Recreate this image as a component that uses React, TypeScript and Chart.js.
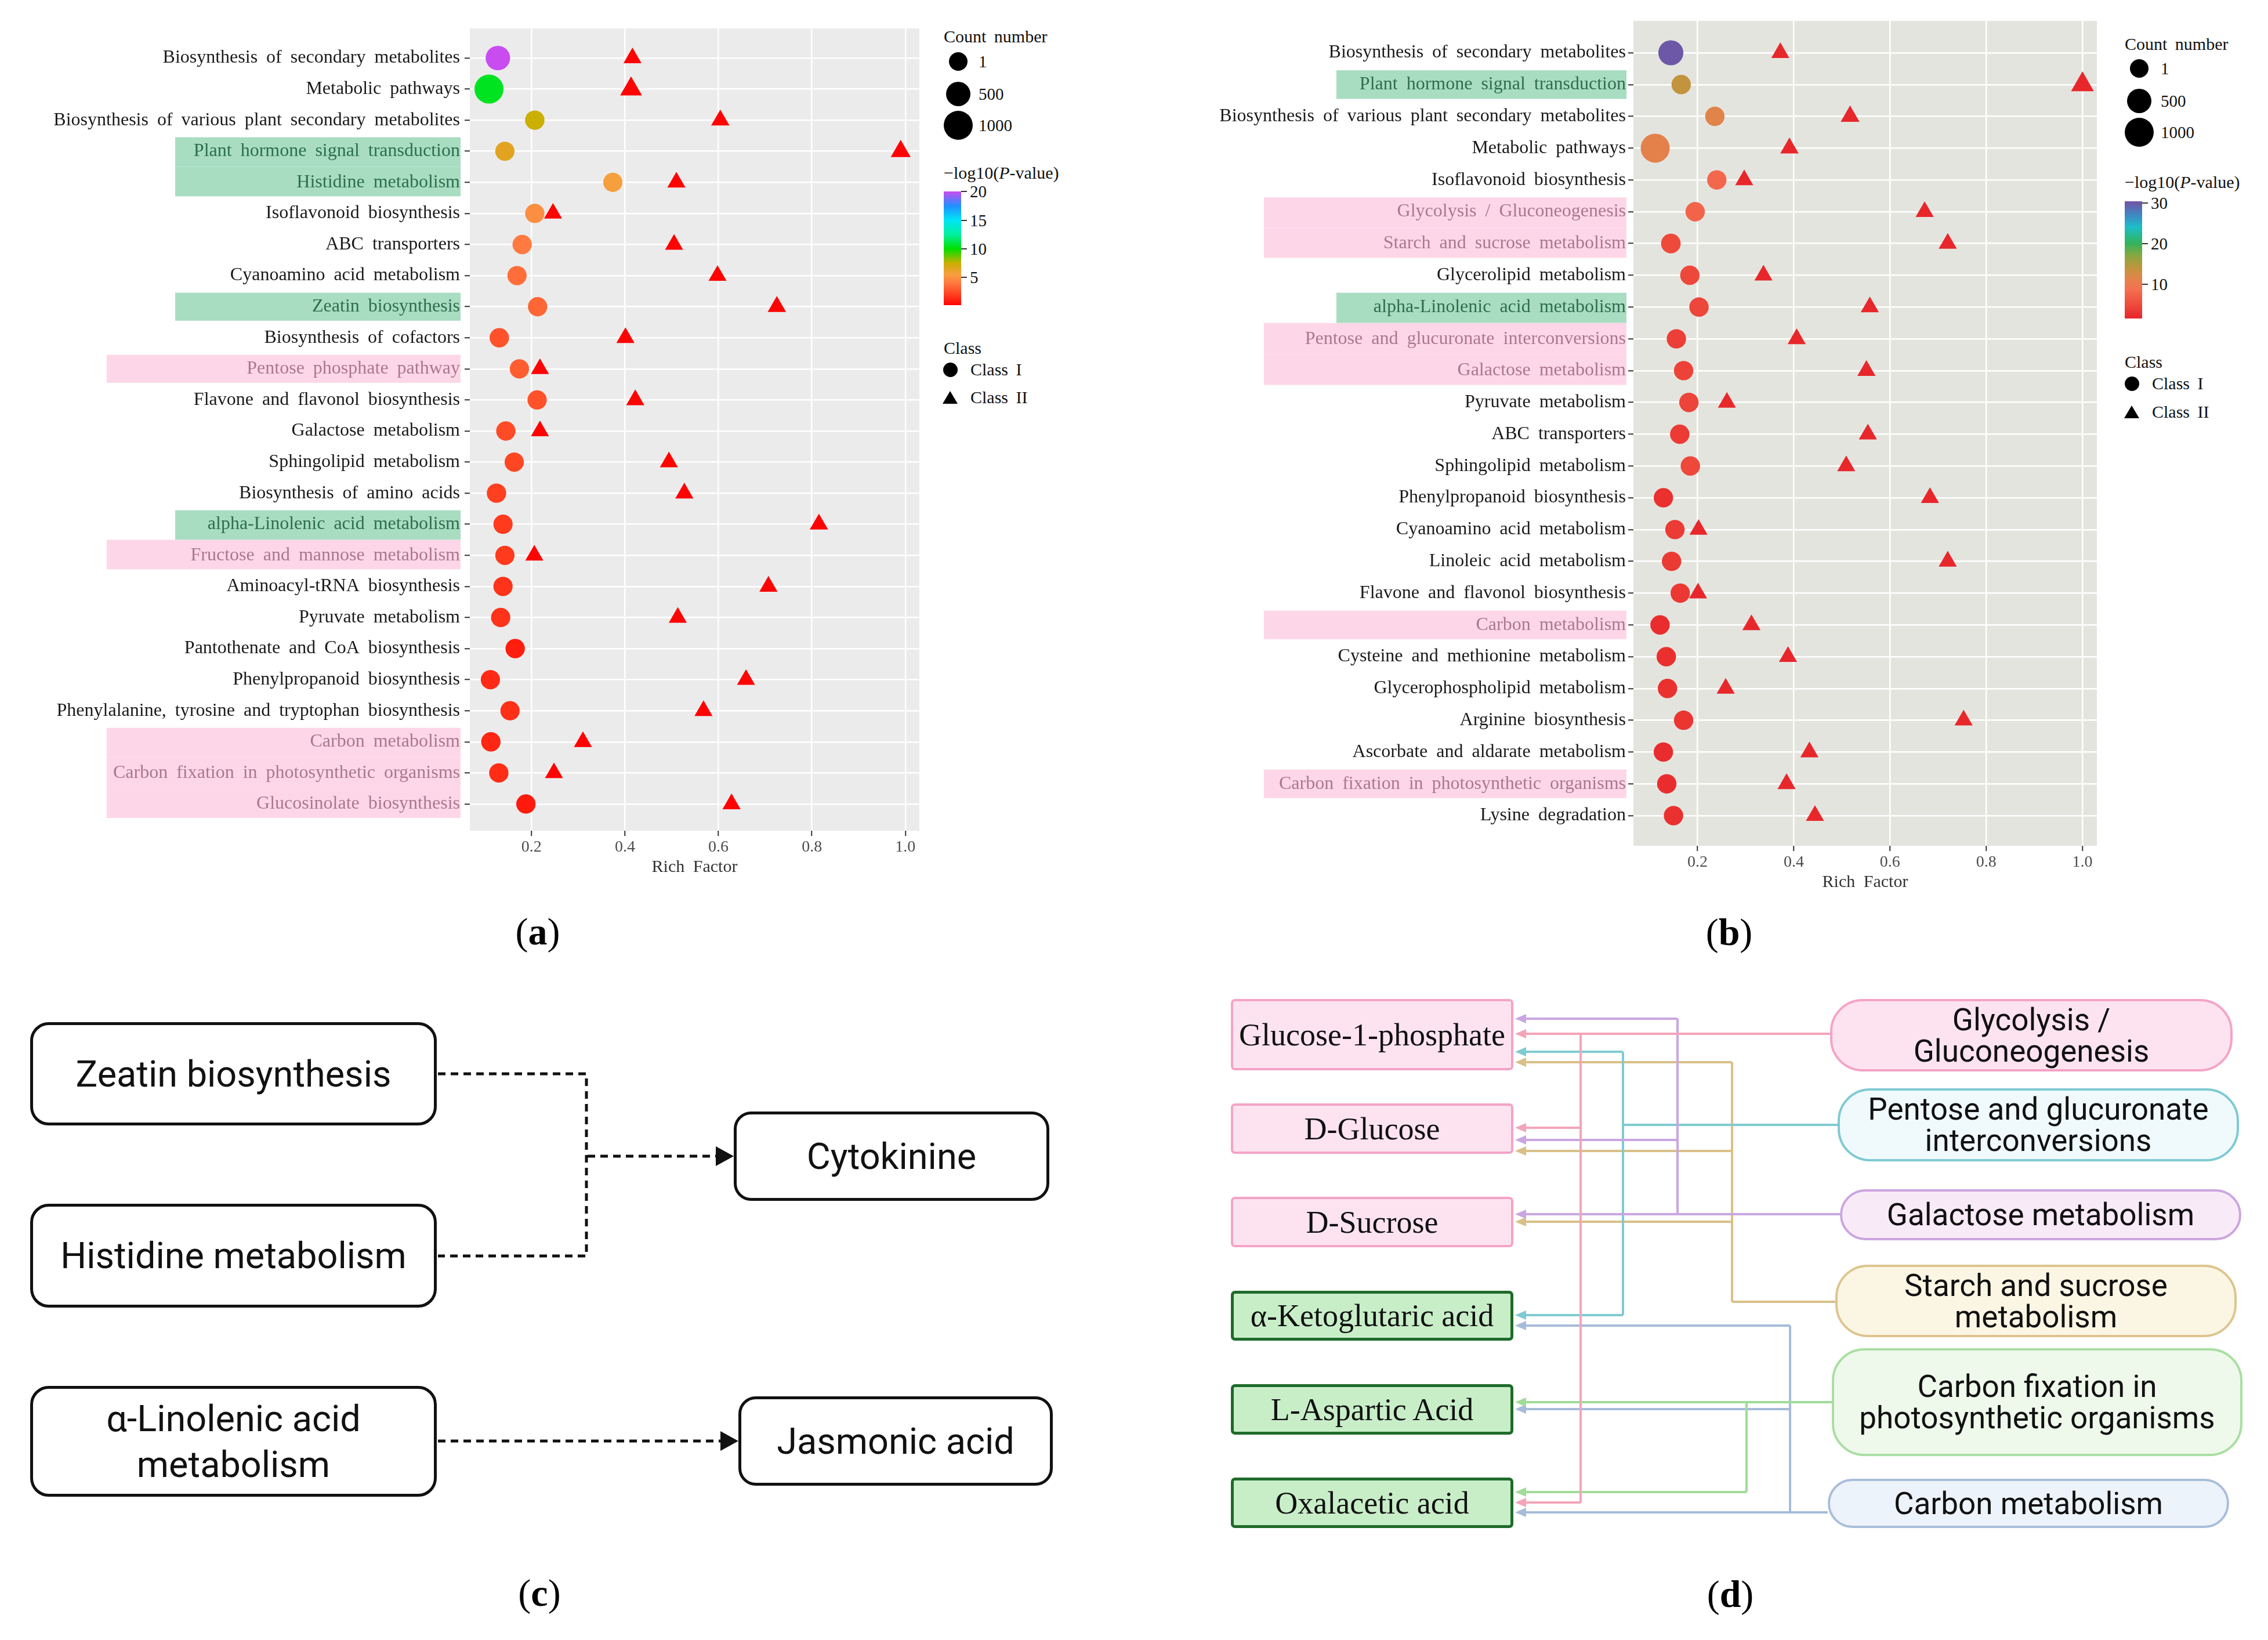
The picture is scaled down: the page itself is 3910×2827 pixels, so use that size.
import React, { useEffect, useRef } from 'react';
import { Chart, registerables } from 'chart.js';
Chart.register(...registerables);

const SERIF = "'Liberation Serif', 'Times New Roman', serif";
const SANS = "Roboto, 'Liberation Sans', Arial, sans-serif";

// ---------------- Panel (a) data ----------------
const catsA = [
  'Biosynthesis of secondary metabolites',
  'Metabolic pathways',
  'Biosynthesis of various plant secondary metabolites',
  'Plant hormone signal transduction',
  'Histidine metabolism',
  'Isoflavonoid biosynthesis',
  'ABC transporters',
  'Cyanoamino acid metabolism',
  'Zeatin biosynthesis',
  'Biosynthesis of cofactors',
  'Pentose phosphate pathway',
  'Flavone and flavonol biosynthesis',
  'Galactose metabolism',
  'Sphingolipid metabolism',
  'Biosynthesis of amino acids',
  'alpha-Linolenic acid metabolism',
  'Fructose and mannose metabolism',
  'Aminoacyl-tRNA biosynthesis',
  'Pyruvate metabolism',
  'Pantothenate and CoA biosynthesis',
  'Phenylpropanoid biosynthesis',
  'Phenylalanine, tyrosine and tryptophan biosynthesis',
  'Carbon metabolism',
  'Carbon fixation in photosynthetic organisms',
  'Glucosinolate biosynthesis',
];
const highlightA = ['', '', '', 'g', 'g', '', '', '', 'g', '', 'p', '', '', '', '', 'g', 'p', '', '', '', '', '', 'p', 'p', 'p'];
const richClassIA = [0.128, 0.109, 0.207, 0.143, 0.374, 0.207, 0.180, 0.169, 0.213, 0.131, 0.174, 0.212, 0.145, 0.163, 0.125, 0.139, 0.143, 0.139, 0.134, 0.165, 0.112, 0.154, 0.113, 0.130, 0.188];
const countClassIA = [500, 1000, 40, 30, 25, 30, 35, 30, 30, 40, 30, 30, 35, 30, 40, 30, 30, 30, 30, 40, 30, 30, 40, 35, 35];
const pClassIA = [20.0, 10.5, 7.4, 6.5, 5.6, 4.8, 4.0, 3.6, 3.3, 2.6, 3.0, 2.6, 2.4, 2.2, 2.0, 1.8, 1.8, 1.6, 1.6, 0.9, 1.3, 1.5, 1.2, 1.4, 0.8];
const richClassIIA = [0.416, 0.413, 0.604, 0.990, 0.510, 0.246, 0.505, 0.598, 0.725, 0.401, 0.218, 0.422, 0.218, 0.494, 0.527, 0.815, 0.206, 0.707, 0.513, null, 0.659, 0.568, 0.310, 0.248, 0.628];
const countClassIIA = [30, 390, 60, 195, 40, 30, 30, 30, 60, 40, 30, 40, 30, 30, 40, 60, 30, 40, 30, null, 30, 30, 30, 30, 40];
const pClassIIA = [0.1, 0.1, 0.1, 0.1, 0.1, 0.1, 0.1, 0.1, 0.1, 0.1, 0.1, 0.1, 0.1, 0.1, 0.1, 0.1, 0.1, 0.1, 0.1, null, 0.1, 0.1, 0.1, 0.1, 0.1];
const xTicksA = [0.2, 0.4, 0.6, 0.8, 1.0];
const colorStopValsA = [0, 2, 4, 5.5, 6.5, 7.5, 10, 12.5, 15, 17.5, 20];
const colorStopColsA = ['#FF0000', '#FF4020', '#FF7A40', '#F7A040', '#E2A420', '#C8B000', '#00E000', '#00F0A0', '#00E5F5', '#2090FF', '#C84CF0'];
const barTicksA = [20, 15, 10, 5];

// ---------------- Panel (b) data ----------------
const catsB = [
  'Biosynthesis of secondary metabolites',
  'Plant hormone signal transduction',
  'Biosynthesis of various plant secondary metabolites',
  'Metabolic pathways',
  'Isoflavonoid biosynthesis',
  'Glycolysis / Gluconeogenesis',
  'Starch and sucrose metabolism',
  'Glycerolipid metabolism',
  'alpha-Linolenic acid metabolism',
  'Pentose and glucuronate interconversions',
  'Galactose metabolism',
  'Pyruvate metabolism',
  'ABC transporters',
  'Sphingolipid metabolism',
  'Phenylpropanoid biosynthesis',
  'Cyanoamino acid metabolism',
  'Linoleic acid metabolism',
  'Flavone and flavonol biosynthesis',
  'Carbon metabolism',
  'Cysteine and methionine metabolism',
  'Glycerophospholipid metabolism',
  'Arginine biosynthesis',
  'Ascorbate and aldarate metabolism',
  'Carbon fixation in photosynthetic organisms',
  'Lysine degradation',
];
const highlightB = ['', 'g', '', '', '', 'p', 'p', '', 'g', 'p', 'p', '', '', '', '', '', '', '', 'p', '', '', '', '', 'p', ''];
const richClassIB = [0.1445, 0.166, 0.236, 0.112, 0.240, 0.195, 0.1445, 0.184, 0.203, 0.156, 0.171, 0.182, 0.163, 0.185, 0.129, 0.153, 0.146, 0.164, 0.122, 0.135, 0.1375, 0.171, 0.129, 0.136, 0.150];
const countClassIB = [560, 40, 40, 1000, 40, 40, 60, 40, 40, 40, 40, 40, 40, 40, 40, 40, 40, 40, 40, 40, 40, 40, 40, 40, 40];
const pClassIB = [30, 14, 11.5, 11, 8, 7.6, 5, 4.8, 4.6, 4, 4.2, 4.4, 3.6, 4.8, 2.6, 3.6, 3.5, 3.3, 2.2, 2.5, 2.6, 3.0, 2.2, 2.3, 2.6];
const richClassIIB = [0.372, 1.0, 0.517, 0.391, 0.297, 0.672, 0.72, 0.337, 0.558, 0.406, 0.551, 0.261, 0.554, 0.509, 0.683, 0.202, 0.72, 0.201, 0.312, 0.388, 0.2585, 0.753, 0.4325, 0.385, 0.444];
const countClassIIB = [30, 490, 100, 60, 30, 40, 40, 30, 40, 40, 40, 30, 40, 30, 40, 30, 40, 30, 40, 40, 40, 40, 40, 40, 40];
const pClassIIB = [1.7, 1.7, 1.7, 1.7, 1.7, 1.7, 1.7, 1.7, 1.7, 1.7, 1.7, 1.7, 1.7, 1.7, 1.7, 1.7, 1.7, 1.7, 1.7, 1.7, 1.7, 1.7, 1.7, 1.7, 1.7];
const xTicksB = [0.2, 0.4, 0.6, 0.8, 1.0];
const colorStopValsB = [1.6, 5, 9, 12, 14, 17, 20, 24, 27, 30.4];
const colorStopColsB = ['#E8262A', '#EE4A3C', '#F47252', '#DC8848', '#C2943E', '#88A840', '#35B35A', '#1CBFC6', '#3F88C4', '#7352A3'];
const barTicksB = [30, 20, 10];

const sizeLegendCounts = [1, 500, 1000];

// ---------------- Panel (c) data ----------------
const cSources = [['Zeatin biosynthesis'], ['Histidine metabolism'], ['α-Linolenic acid', 'metabolism']];
const cTargets = [['Cytokinine'], ['Jasmonic acid']];

// ---------------- Panel (d) data ----------------
const dMetabolites = ['Glucose-1-phosphate', 'D-Glucose', 'D-Sucrose', 'α-Ketoglutaric acid', 'L-Aspartic Acid', 'Oxalacetic acid'];
const dMetaboliteKind = ['sugar', 'sugar', 'sugar', 'acid', 'acid', 'acid'];
const dPathways = [['Glycolysis /', 'Gluconeogenesis'], ['Pentose and glucuronate', 'interconversions'], ['Galactose metabolism'], ['Starch and sucrose', 'metabolism'], ['Carbon fixation in', 'photosynthetic organisms'], ['Carbon metabolism']];
// pathway index -> metabolite indices it links to
const dLinks = [[0, 1, 5], [0, 3], [0, 1, 2], [0, 1, 2], [4, 5], [3, 4, 5]];

// ---------------- helpers ----------------
function hexToRgb(h: string) {
  return [parseInt(h.slice(1, 3), 16), parseInt(h.slice(3, 5), 16), parseInt(h.slice(5, 7), 16)];
}
function makeColorFn(vals: number[], cols: string[]) {
  const rgb = cols.map(hexToRgb);
  return (v: number) => {
    if (v <= vals[0]) return cols[0];
    if (v >= vals[vals.length - 1]) return cols[cols.length - 1];
    let i = 0;
    while (v > vals[i + 1]) i++;
    const t = (v - vals[i]) / (vals[i + 1] - vals[i]);
    const a = rgb[i], b = rgb[i + 1];
    const c = a.map((x, k) => Math.round(x + (b[k] - x) * t));
    return `rgb(${c[0]},${c[1]},${c[2]})`;
  };
}
const radiusFor = (count: number) => Math.sqrt(265 + 0.36 * count);

const GREEN_BAND = '#A8DDC2';
const PINK_BAND = '#FDD7E7';
const GREEN_TEXT = '#2E6E4C';
const PINK_TEXT = '#AC7690';

type BubbleProps = {
  left: number; width: number; height: number;
  cats: string[]; hl: string[];
  richI: number[]; countI: number[]; pI: number[];
  richII: (number | null)[]; countII: (number | null)[]; pII: (number | null)[];
  colorFn: (v: number) => string;
  xMin: number; xMax: number; yMin: number; yMax: number; xTicks: number[];
  yAxisW: number; pad: { left: number; right: number; top: number; bottom: number };
  labelPad: number; bg: string; bandG: number; bandP: number;
};

function BubbleChart(p: BubbleProps) {
  const ref = useRef<HTMLCanvasElement>(null);
  useEffect(() => {
    const ptsI = p.cats.map((_, i) => ({ x: p.richI[i], y: i, r: radiusFor(p.countI[i]), c: p.colorFn(p.pI[i]) }));
    const ptsII = p.cats
      .map((_, i) => (p.richII[i] == null ? null : { x: p.richII[i] as number, y: i, r: 1.08 * radiusFor(p.countII[i] as number), c: p.colorFn(p.pII[i] as number) }))
      .filter((d) => d !== null);
    const tickLen = 9;
    const bandPlugin = {
      id: 'bands',
      beforeDraw(chart: any) {
        const { ctx, chartArea: a } = chart;
        const ys = chart.scales.y;
        ctx.save();
        ctx.fillStyle = p.bg;
        ctx.fillRect(a.left, a.top, a.right - a.left, a.bottom - a.top);
        const s = Math.abs(ys.getPixelForValue(1) - ys.getPixelForValue(0));
        const right = a.left - tickLen - p.labelPad + 1;
        p.hl.forEach((h, i) => {
          if (!h) return;
          const c = ys.getPixelForValue(i);
          const top = c - (i > 0 && p.hl[i - 1] ? 0.5 : 0.45) * s;
          const bot = c + (i < p.hl.length - 1 && p.hl[i + 1] ? 0.5 : 0.45) * s;
          ctx.fillStyle = h === 'g' ? GREEN_BAND : PINK_BAND;
          const l = h === 'g' ? p.bandG : p.bandP;
          ctx.fillRect(l, top, right - l, bot - top);
        });
        ctx.restore();
        (ctx as any).wordSpacing = '7px';
      },
    };
    const chart = new Chart(ref.current as HTMLCanvasElement, {
      type: 'scatter',
      data: {
        datasets: [
          {
            label: 'Class II',
            data: ptsII as any,
            pointStyle: 'triangle',
            pointRadius: (c: any) => c.raw.r,
            pointBackgroundColor: (c: any) => c.raw.c,
            pointBorderWidth: 0,
          },
          {
            label: 'Class I',
            data: ptsI as any,
            pointStyle: 'circle',
            pointRadius: (c: any) => c.raw.r,
            pointBackgroundColor: (c: any) => c.raw.c,
            pointBorderWidth: 0,
          },
        ],
      },
      options: {
        responsive: false,
        animation: false,
        events: [],
        layout: { padding: p.pad },
        plugins: { legend: { display: false }, tooltip: { enabled: false } },
        scales: {
          x: {
            type: 'linear',
            min: p.xMin,
            max: p.xMax,
            afterBuildTicks: (s: any) => { s.ticks = p.xTicks.map((v) => ({ value: v })); },
            afterFit: (s: any) => { s.height = 81; },
            grid: { color: '#FFFFFF', lineWidth: 2.5, tickColor: '#333333', tickLength: tickLen, tickWidth: 2 },
            border: { display: false },
            ticks: {
              callback: (v: any) => Number(v).toFixed(1),
              font: { family: SERIF, size: 28 },
              color: '#4D4D4D',
              padding: 3,
              maxRotation: 0,
              autoSkip: false,
            },
            title: { display: true, text: 'Rich Factor', font: { family: SERIF, size: 30 }, color: '#333333', padding: { top: 0, bottom: 0 } },
          },
          y: {
            type: 'linear',
            reverse: true,
            min: p.yMin,
            max: p.yMax,
            afterBuildTicks: (s: any) => { s.ticks = p.cats.map((_, i) => ({ value: i })); },
            afterFit: (s: any) => { s.width = p.yAxisW; },
            grid: { color: '#FFFFFF', lineWidth: 2.5, tickColor: '#333333', tickLength: tickLen, tickWidth: 2 },
            border: { display: false },
            ticks: {
              callback: (_v: any, i: number) => p.cats[i],
              font: { family: SERIF, size: 32 },
              color: (c: any) => (p.hl[c.index] === 'g' ? GREEN_TEXT : p.hl[c.index] === 'p' ? PINK_TEXT : '#1A1A1A'),
              padding: p.labelPad,
              autoSkip: false,
            },
          },
        },
      } as any,
      plugins: [bandPlugin as any],
    });
    return () => chart.destroy();
  }, []);
  return <canvas ref={ref} width={p.width} height={p.height} style={{ position: 'absolute', left: p.left, top: 0 }} />;
}

type LegendProps = {
  x0: number; countTitleY: number; sizeCx: number; sizeYs: number[]; sizeLabelX: number;
  pTitleY: number; barTop: number; barBottom: number; barMin: number; barMax: number; barTicks: number[];
  stopVals: number[]; stopCols: string[];
  classTitleY: number; classIY: number; classIIY: number; classMarkX: number; classLabelX: number;
};

function Txt({ x, y, children, size = 30 }: { x: number; y: number; children: any; size?: number }) {
  return (
    <div style={{ position: 'absolute', left: x, top: y, transform: 'translateY(-50%)', fontFamily: SERIF, fontSize: size, lineHeight: 1, color: '#111', whiteSpace: 'nowrap', wordSpacing: 6 }}>
      {children}
    </div>
  );
}

function Legend(l: LegendProps) {
  const barH = l.barBottom - l.barTop;
  const grad = 'linear-gradient(to top, ' + l.stopVals.map((v, i) => `${l.stopCols[i]} ${(((v - l.barMin) / (l.barMax - l.barMin)) * 100).toFixed(2)}%`).join(', ') + ')';
  const tickY = (v: number) => l.barBottom - ((v - l.barMin) / (l.barMax - l.barMin)) * barH;
  return (
    <>
      <Txt x={l.x0} y={l.countTitleY}>Count number</Txt>
      {sizeLegendCounts.map((c, i) => {
        const r = radiusFor(c);
        return (
          <React.Fragment key={c}>
            <div style={{ position: 'absolute', left: l.sizeCx - r, top: l.sizeYs[i] - r, width: 2 * r, height: 2 * r, borderRadius: '50%', background: '#000' }} />
            <Txt x={l.sizeLabelX} y={l.sizeYs[i]} size={29}>{String(c)}</Txt>
          </React.Fragment>
        );
      })}
      <Txt x={l.x0} y={l.pTitleY}>−log10(<i>P</i>-value)</Txt>
      <div style={{ position: 'absolute', left: l.x0, top: l.barTop, width: 30, height: barH, background: grad }} />
      {l.barTicks.map((v) => (
        <React.Fragment key={v}>
          <div style={{ position: 'absolute', left: l.x0 + 30, top: tickY(v) - 1, width: 10, height: 2, background: '#333' }} />
          <Txt x={l.x0 + 45} y={tickY(v)} size={29}>{String(v)}</Txt>
        </React.Fragment>
      ))}
      <Txt x={l.x0} y={l.classTitleY}>Class</Txt>
      <div style={{ position: 'absolute', left: l.classMarkX - 12.5, top: l.classIY - 12.5, width: 25, height: 25, borderRadius: '50%', background: '#000' }} />
      <Txt x={l.classLabelX} y={l.classIY}>Class I</Txt>
      <svg style={{ position: 'absolute', left: l.classMarkX - 14, top: l.classIIY - 13, overflow: 'visible' }} width={28} height={26}>
        <polygon points="14,2 27,24 1,24" fill="#000" />
      </svg>
      <Txt x={l.classLabelX} y={l.classIIY}>Class II</Txt>
    </>
  );
}

function Box({ x, y, w, h, lines, style, lineHeight }: any) {
  return (
    <div style={{ position: 'absolute', left: x, top: y, width: w, height: h, boxSizing: 'border-box', display: 'flex', alignItems: 'center', justifyContent: 'center', textAlign: 'center', whiteSpace: 'nowrap', ...style }}>
      <div style={{ lineHeight: lineHeight + 'px' }}>
        {lines.map((t: string, i: number) => (<div key={i}>{t}</div>))}
      </div>
    </div>
  );
}

function PanelLabel({ x, y, letter }: { x: number; y: number; letter: string }) {
  return (
    <div style={{ position: 'absolute', left: x, top: y, transform: 'translate(-50%, -50%)', fontFamily: SERIF, fontSize: 66, lineHeight: 1, color: '#000' }}>
      (<b>{letter}</b>)
    </div>
  );
}

// layout for panel (c)
const cSrcBoxes = [{ x: 52, y: 1762, w: 701, h: 178 }, { x: 52, y: 2075, w: 701, h: 179 }, { x: 52, y: 2389, w: 701, h: 191 }];
const cTgtBoxes = [{ x: 1265, y: 1916, w: 544, h: 154 }, { x: 1273, y: 2407, w: 542, h: 154 }];

// layout for panel (d)
const dLeftX = 2122, dLeftW = 487;
const dLeftTops = [1722, 1902, 2063, 2225, 2386, 2547];
const dLeftHeights = [123, 87, 87, 86, 87, 87];
const dRightBoxes = [
  { x: 3155, y: 1722, w: 694, h: 125 },
  { x: 3168, y: 1876, w: 692, h: 126 },
  { x: 3172, y: 2050, w: 692, h: 88 },
  { x: 3164, y: 2180, w: 692, h: 125 },
  { x: 3158, y: 2324, w: 708, h: 186 },
  { x: 3151, y: 2549, w: 692, h: 85 },
];
const dFill = ['#FDE3F0', '#F0FAFD', '#F9EAF8', '#FBF6E4', '#EEF9EB', '#EDF3FA'];
const dBorder = ['#F5A3C7', '#7FCAD3', '#CBA5DF', '#DEC48E', '#A9DEA3', '#A9BEDA'];
const dLineCol = ['#F4A4B8', '#7FCBD2', '#C9A6E2', '#D9C088', '#A0DC98', '#A6BCDA'];
const dTrunkX = [2725, 2798, 2892, 2986, 3011, 3086];
const dSrcY = [1782, 1939, 2093, 2244, 2417, 2607];
// arrival y on each metabolite, per link (pathway, metabolite)
const dArriveY: Record<string, number> = {
  '0-0': 1782, '0-1': 1944, '0-5': 2590,
  '1-0': 1813, '1-3': 2267,
  '2-0': 1756, '2-1': 1965, '2-2': 2093,
  '3-0': 1831, '3-1': 1984, '3-2': 2106,
  '4-4': 2417, '4-5': 2572,
  '5-3': 2285, '5-4': 2429, '5-5': 2607,
};

function Connectors() {
  const tipX = dLeftX + dLeftW + 3;
  const baseX = tipX + 19;
  const drawOrder = [5, 4, 3, 1, 2, 0];
  return (
    <svg style={{ position: 'absolute', left: 0, top: 0 }} width={3910} height={2827}>
      {/* panel (c) dashed connectors */}
      <g stroke="#111" strokeWidth={5} strokeDasharray="13 9" fill="none">
        <path d="M 755 1851 H 1011 V 2165 H 755" />
        <path d="M 1013 1993 H 1236" />
        <path d="M 755 2484 H 1244" />
      </g>
      <polygon points="1265,1993 1234,1976 1234,2010" fill="#111" />
      <polygon points="1273,2484 1242,2467 1242,2501" fill="#111" />
      {/* panel (d) connectors */}
      {drawOrder.map((pi) => {
        const ys = dLinks[pi].map((m) => dArriveY[`${pi}-${m}`]);
        const all = ys.concat([dSrcY[pi]]);
        const col = dLineCol[pi];
        return (
          <g key={pi}>
            <path d={`M ${dRightBoxes[pi].x} ${dSrcY[pi]} H ${dTrunkX[pi]} M ${dTrunkX[pi]} ${Math.min(...all)} V ${Math.max(...all)}`} stroke={col} strokeWidth={4} fill="none" />
            {ys.map((y, k) => (
              <g key={k}>
                <path d={`M ${dTrunkX[pi]} ${y} H ${baseX - 2}`} stroke={col} strokeWidth={4} fill="none" />
                <polygon points={`${tipX},${y} ${baseX},${y - 8} ${baseX},${y + 8}`} fill={col} />
              </g>
            ))}
          </g>
        );
      })}
    </svg>
  );
}

export default function App() {
  const colorA = makeColorFn(colorStopValsA, colorStopColsA);
  const colorB = makeColorFn(colorStopValsB, colorStopColsB);
  return (
    <div style={{ position: 'absolute', left: 0, top: 0, width: 3910, height: 2827, background: '#FFFFFF', overflow: 'hidden' }}>
      <BubbleChart
        left={0} width={1610} height={1530}
        cats={catsA} hl={highlightA}
        richI={richClassIA} countI={countClassIA} pI={pClassIA}
        richII={richClassIIA} countII={countClassIIA} pII={pClassIIA}
        colorFn={colorA}
        xMin={0.068} xMax={1.03} yMin={-0.952} yMax={24.86} xTicks={xTicksA}
        yAxisW={810} pad={{ left: 0, right: 6, top: 49, bottom: 17 }}
        labelPad={8} bg="#EBEBEB" bandG={302} bandP={184}
      />
      <BubbleChart
        left={2000} width={1640} height={1560}
        cats={catsB} hl={highlightB}
        richI={richClassIB} countI={countClassIB} pI={pClassIB}
        richII={richClassIIB} countII={countClassIIB} pII={pClassIIB}
        colorFn={colorB}
        xMin={0.0667} xMax={1.03} yMin={-1.004} yMax={24.95} xTicks={xTicksB}
        yAxisW={816} pad={{ left: 0, right: 8, top: 36, bottom: 21 }}
        labelPad={4} bg="#E4E4DF" bandG={304} bandP={179}
      />
      <Legend
        x0={1627} countTitleY={63} sizeCx={1652} sizeYs={[106, 162, 216]} sizeLabelX={1687}
        pTitleY={298} barTop={330} barBottom={526} barMin={0.1} barMax={20.05} barTicks={barTicksA}
        stopVals={colorStopValsA} stopCols={colorStopColsA}
        classTitleY={600} classIY={637} classIIY={685} classMarkX={1638} classLabelX={1673}
      />
      <Legend
        x0={3663} countTitleY={76} sizeCx={3688} sizeYs={[118, 174, 228]} sizeLabelX={3725}
        pTitleY={314} barTop={347} barBottom={549} barMin={1.6} barMax={30.4} barTicks={barTicksB}
        stopVals={colorStopValsB} stopCols={colorStopColsB}
        classTitleY={624} classIY={661} classIIY={710} classMarkX={3675} classLabelX={3710}
      />
      <PanelLabel x={927} y={1606} letter="a" />
      <PanelLabel x={2981} y={1607} letter="b" />
      <PanelLabel x={930} y={2746} letter="c" />
      <PanelLabel x={2983} y={2748} letter="d" />

      <Connectors />

      {cSources.map((lines, i) => (
        <Box key={'cs' + i} {...cSrcBoxes[i]} lines={lines} lineHeight={79}
          style={{ border: '5px solid #111', borderRadius: 32, background: '#fff', fontFamily: SANS, fontSize: 63, color: '#111' }} />
      ))}
      {cTargets.map((lines, i) => (
        <Box key={'ct' + i} {...cTgtBoxes[i]} lines={lines} lineHeight={79}
          style={{ border: '5px solid #111', borderRadius: 30, background: '#fff', fontFamily: SANS, fontSize: 63, color: '#111' }} />
      ))}
      {dMetabolites.map((name, i) => (
        <Box key={'dm' + i} x={dLeftX} y={dLeftTops[i]} w={dLeftW} h={dLeftHeights[i]} lines={[name]} lineHeight={58}
          style={{
            border: dMetaboliteKind[i] === 'sugar' ? '4px solid #F5A3C7' : '5px solid #1F6B2B',
            borderRadius: 7,
            background: dMetaboliteKind[i] === 'sugar' ? '#FDE3F0' : '#C8EEC8',
            fontFamily: SERIF, fontSize: 54, color: '#111',
          }} />
      ))}
      {dPathways.map((lines, i) => (
        <Box key={'dp' + i} {...dRightBoxes[i]} lines={lines} lineHeight={54}
          style={{ border: `4px solid ${dBorder[i]}`, borderRadius: 56, background: dFill[i], fontFamily: SANS, fontSize: 53, color: '#111' }} />
      ))}
    </div>
  );
}
